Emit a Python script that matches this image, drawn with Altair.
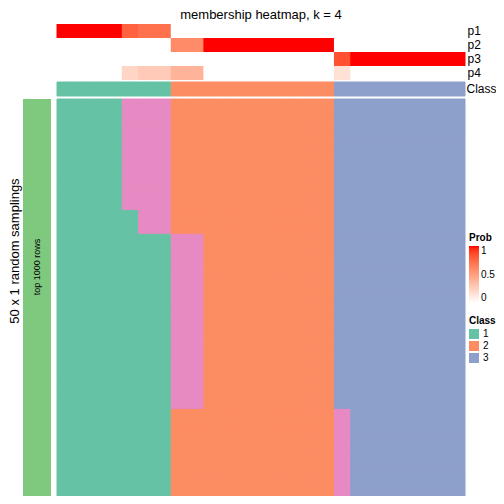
import altair as alt
import pandas as pd

FONT = "Liberation Sans"

# ---- data ----
n_cols = 25
col_ids = list(range(n_cols))
prob_rows = ["p1", "p2", "p3", "p4"]
p1 = [1, 1, 1, 1, 0.78, 0.72, 0.72] + [0] * 18
p2 = [0] * 7 + [0.6, 0.6] + [1] * 8 + [0] * 8
p3 = [0] * 17 + [0.84] + [1] * 7
p4 = [0] * 4 + [0.22, 0.28, 0.28, 0.4, 0.4] + [0] * 8 + [0.16] + [0] * 7
col_class = ["1"] * 7 + ["2"] * 10 + ["3"] * 8

# main heatmap: 50 random samplings, grouped in blocks of identical rows
block_sizes = [14, 3, 22, 11]
block_patterns = [
    "1111444222222222233333333",
    "1111144222222222233333333",
    "1111111442222222233333333",
    "1111111222222222243333333",
]
class_domain = ["1", "2", "3", "4"]
class_colors = ["#66C2A5", "#FC8D62", "#8DA0CB", "#E78AC3"]

title_text = "membership heatmap, k = 4"
left_title = "50 x 1 random samplings"
bar_label = "top 1000 rows"

# ---- tables ----
annot_df = pd.DataFrame(
    [{"col": c, "row": r, "prob": v}
     for r, vals in zip(prob_rows, [p1, p2, p3, p4])
     for c, v in zip(col_ids, vals)]
)
class_df = pd.DataFrame({"col": col_ids, "row": ["Class"] * n_cols, "cls": col_class, "cls_edge": col_class})
main_rows = []
r = 0
for size, pat in zip(block_sizes, block_patterns):
    for _ in range(size):
        for c, ch in enumerate(pat):
            main_rows.append({"col": c, "row": r, "cls": ch})
        r += 1
n_rows = r
main_df = pd.DataFrame(main_rows)
bar_df = pd.DataFrame({"g": [bar_label], "r": ["all"]})

X_RANGE = [49, 457]

x_enc = alt.X("col:O", scale=alt.Scale(domain=col_ids, range=X_RANGE, paddingInner=0, paddingOuter=0), axis=None)

annot = alt.Chart(annot_df).mark_rect(strokeWidth=0, width=alt.RelativeBandSize(1.06)).encode(
    x=x_enc,
    y=alt.Y("row:N", scale=alt.Scale(domain=prob_rows, range=[16, 72], paddingInner=0, paddingOuter=0),
            axis=alt.Axis(orient="right", offset=-31, ticks=False, domain=False, labelFontSize=12,
                          labelPadding=2, title=None, labelFont=FONT, labelColor="black")),
    color=alt.Color("prob:Q",
                    scale=alt.Scale(domain=[0, 1], range=["#FFFFFF", "#FF0000"], interpolate="lab"),
                    legend=alt.Legend(type="gradient", title="Prob", orient="none", legendX=461, legendY=225,
                                      direction="vertical",
                                      gradientLength=57, gradientThickness=10, values=[0, 0.5, 1], format="~g",
                                      labelFontSize=10, titleFontSize=10, titleFontWeight="bold",
                                      gradientStrokeWidth=0, padding=0, titlePadding=3, labelOffset=2,
                                      labelFont=FONT, titleFont=FONT, labelColor="black", titleColor="black")),
)

classrow = alt.Chart(class_df).mark_rect(strokeWidth=1).encode(
    x=x_enc,
    y=alt.Y("row:N", scale=alt.Scale(domain=["Class"], range=[74, 88], paddingInner=0, paddingOuter=0),
            axis=alt.Axis(orient="right", offset=-31, ticks=False, domain=False, labelFontSize=12,
                          labelPadding=1, title=None, labelFont=FONT, labelColor="black")),
    color=alt.Color("cls:N", scale=alt.Scale(domain=class_domain[:3], range=class_colors[:3]),
                    legend=alt.Legend(title="Class", orient="none", legendX=461, legendY=308,
                                      symbolType="square", symbolSize=100, symbolStrokeWidth=0,
                                      labelFontSize=10, titleFontSize=10, titleFontWeight="bold",
                                      rowPadding=2, padding=0, titlePadding=3, symbolOpacity=1,
                                      labelFont=FONT, titleFont=FONT, labelColor="black", titleColor="black")),
    stroke=alt.Stroke("cls_edge:N", scale=alt.Scale(domain=class_domain[:3], range=class_colors[:3]), legend=None),
)

main = alt.Chart(main_df).mark_rect(strokeWidth=1).encode(
    x=x_enc,
    y=alt.Y("row:O", scale=alt.Scale(domain=list(range(n_rows)), range=[91, 489], paddingInner=0, paddingOuter=0),
            axis=None),
    color=alt.Color("cls:N", scale=alt.Scale(domain=class_domain, range=class_colors), legend=None),
    stroke=alt.Stroke("cls:N", scale=alt.Scale(domain=class_domain, range=class_colors), legend=None),
)

leftbar = alt.Chart(bar_df).mark_rect(strokeWidth=0, color="#7FC97F").encode(
    x=alt.X("g:N", scale=alt.Scale(range=[15, 43], paddingInner=0, paddingOuter=0), axis=None),
    y=alt.Y("r:N", scale=alt.Scale(range=[91, 489], paddingInner=0, paddingOuter=0), axis=None),
)

bar_text = alt.Chart(bar_df).mark_text(angle=270, fontSize=9, font=FONT, color="black",
                                       align="center", baseline="middle").encode(
    text="g:N", x=alt.value(29), y=alt.value(259))

ltitle_df = pd.DataFrame({"t": [left_title]})
ltitle = alt.Chart(ltitle_df).mark_text(angle=270, fontSize=13, font=FONT, color="black",
                                        align="center", baseline="middle").encode(
    text="t:N", x=alt.value(7), y=alt.value(243))

title_df = pd.DataFrame({"t": [title_text]})
ttl = alt.Chart(title_df).mark_text(fontSize=13, font=FONT, color="black",
                                    align="center", baseline="alphabetic").encode(
    text="t:N", x=alt.value(253), y=alt.value(11))

chart = alt.layer(annot, classrow, main, leftbar, bar_text, ltitle, ttl).resolve_scale(
    x="independent", y="independent", color="independent", stroke="independent"
).properties(
    width=488, height=488, autosize="none", padding=0
).configure_view(stroke=None)

chart.save("out.html", embed_options={"renderer": "svg", "actions": False})
